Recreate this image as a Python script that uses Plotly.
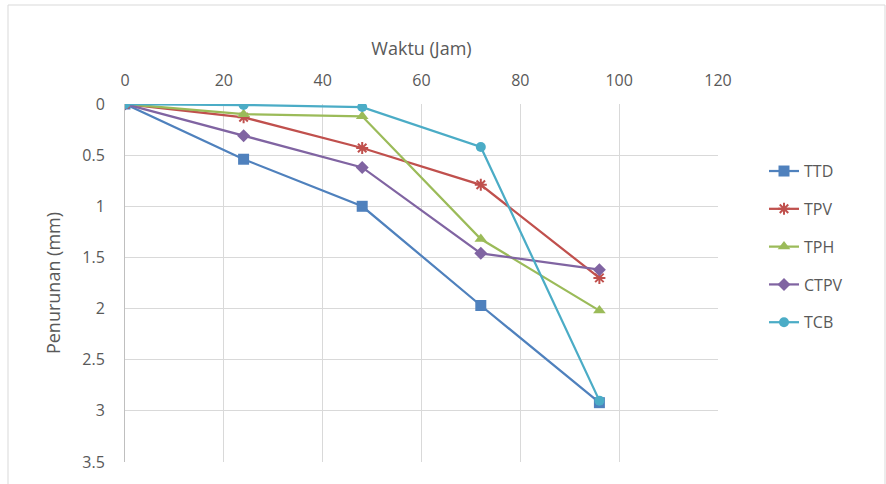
import plotly.graph_objects as go

hours = [0, 24, 48, 72, 96]
series_names = ["TTD", "TPV", "TPH", "CTPV", "TCB"]
ttd = [0, 0.54, 1.0, 1.97, 2.92]
tpv = [0, 0.13, 0.43, 0.79, 1.70]
tph = [0, 0.10, 0.12, 1.32, 2.02]
ctpv = [0, 0.31, 0.62, 1.46, 1.62]
tcb = [0, 0.01, 0.03, 0.42, 2.90]
x_ticks = [0, 20, 40, 60, 80, 100, 120]
y_ticks = [0, 0.5, 1, 1.5, 2, 2.5, 3, 3.5]

colors = ["#4F81BD", "#C0504D", "#9BBB59", "#8064A2", "#4BACC6"]
symbols = ["square", "asterisk-open", "triangle-up", "diamond", "circle"]
sizes = [11, 10, 11, 10, 10]
values = [ttd, tpv, tph, ctpv, tcb]

fig = go.Figure()
for i, (name, vals) in enumerate(zip(series_names, values)):
    mk = dict(symbol=symbols[i], size=sizes[i], color=colors[i])
    if symbols[i] == "asterisk-open":
        mk["line"] = dict(color=colors[i], width=2)
    fig.add_trace(go.Scatter(
        x=hours, y=vals, name=name, mode="lines+markers",
        line=dict(color=colors[i], width=2.25),
        marker=mk, legendgroup=name,
    ))

FAM = "Open Sans, Liberation Sans, sans-serif"
GRAY = "#595959"
tick_font = dict(family=FAM, size=16, color=GRAY)
title_font = dict(family=FAM, size=18, color=GRAY)

L, R, T, B = 125, 168, 104, 22
PW, PH = 886 - L - R, 484 - T - B

fig.update_layout(
    width=886, height=484,
    margin=dict(l=L, r=R, t=T, b=B),
    paper_bgcolor="white", plot_bgcolor="white",
    font=tick_font,
    showlegend=True,
    legend=dict(x=(764 - L) / PW, y=0.86, xanchor="left", yanchor="top",
                traceorder="grouped", tracegroupgap=14,
                font=dict(family=FAM, size=16, color=GRAY)),
    xaxis=dict(side="top", range=[0, 120], tickvals=x_ticks, ticktext=[str(v) for v in x_ticks],
               showgrid=True, gridcolor="#D9D9D9", gridwidth=1, zeroline=False,
               showline=False, ticks="", ticklabelstandoff=14, tickfont=tick_font,
               title=dict(text="Waktu (Jam)", standoff=8, font=title_font)),
    yaxis=dict(range=[3.5, 0], tickvals=y_ticks, ticktext=[f"{v:g}" for v in y_ticks],
               showgrid=True, gridcolor="#D9D9D9", gridwidth=1, zeroline=False,
               showline=True, linecolor="#BFBFBF", ticks="", ticklabelstandoff=16,
               tickfont=tick_font,
               title=dict(text="Penurunan (mm)", standoff=16, font=title_font)),
    shapes=[dict(type="rect", xref="paper", yref="paper",
                 x0=(8 - L) / PW, x1=(885 - L) / PW, y0=-(B + 5) / PH, y1=1 + (T - 5) / PH,
                 line=dict(color="#D9D9D9", width=1), fillcolor="rgba(0,0,0,0)",
                 layer="below")],
)

fig.write_html("out.html", config={"displayModeBar": False},
               post_script="document.body.style.margin='0';")
